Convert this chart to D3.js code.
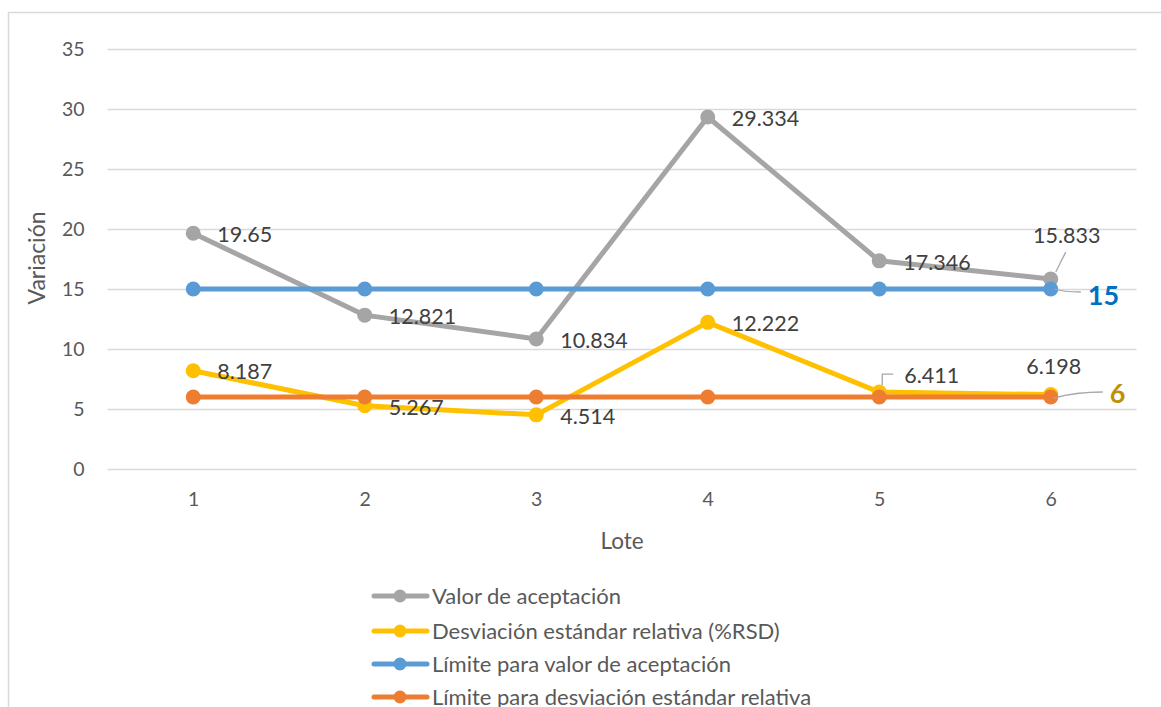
<!DOCTYPE html>
<html>
<head>
<meta charset="utf-8">
<script src="https://cdn.jsdelivr.net/npm/d3@7"></script>
<style>
  html, body { margin: 0; padding: 0; background: #fff; }
  svg { display: block; font-family: Lato, "Noto Sans", sans-serif; }
</style>
</head>
<body>
<svg id="chart" width="1161" height="707"></svg>
<script>
// Lotes and measured series
const lotes = ["1", "2", "3", "4", "5", "6"];
const valorAceptacion = [19.65, 12.821, 10.834, 29.334, 17.346, 15.833];
const desviacionRSD = [8.187, 5.267, 4.514, 12.222, 6.411, 6.198];
const limiteValor = [15, 15, 15, 15, 15, 15];
const limiteRSD = [6, 6, 6, 6, 6, 6];
const yTicks = [0, 5, 10, 15, 20, 25, 30, 35];

const seriesNames = [
  "Valor de aceptación",
  "Desviación estándar relativa (%RSD)",
  "Límite para valor de aceptación",
  "Límite para desviación estándar relativa"
];
const seriesColors = ["#A5A5A5", "#FFC000", "#5B9BD5", "#ED7D31"];

const svg = d3.select("#chart");

// chart frame
svg.append("rect")
  .attr("x", 8.5).attr("y", 12.5)
  .attr("width", 1170).attr("height", 720)
  .attr("fill", "none").attr("stroke", "#d9d9d9").attr("stroke-width", 1.5);

const plot = { left: 107.5, right: 1136.5, top: 49, bottom: 469 };

const x = d3.scalePoint()
  .domain(lotes)
  .range([plot.left, plot.right])
  .padding(0.5);

const y = d3.scaleLinear()
  .domain([0, 35])
  .range([plot.bottom, plot.top]);

// horizontal gridlines
svg.append("g")
  .selectAll("line")
  .data(yTicks)
  .join("line")
  .attr("x1", plot.left).attr("x2", plot.right)
  .attr("y1", d => Math.round(y(d)) + 0.5).attr("y2", d => Math.round(y(d)) + 0.5)
  .attr("stroke", "#d9d9d9").attr("stroke-width", 1.5);

// y axis labels
const yAxis = d3.axisLeft(y).tickValues(yTicks).tickSize(0).tickPadding(0);
const gy = svg.append("g")
  .attr("transform", `translate(${plot.left - 23},0)`)
  .call(yAxis);
gy.select(".domain").remove();
gy.selectAll("text")
  .attr("fill", "#595959")
  .attr("font-size", 19.5)
  .attr("font-family", "Lato, sans-serif");

// x axis labels
const xAxis = d3.axisBottom(x).tickSize(0).tickPadding(0);
const gx = svg.append("g")
  .attr("transform", `translate(0,${plot.bottom + 23})`)
  .call(xAxis);
gx.select(".domain").remove();
gx.selectAll("text")
  .attr("fill", "#595959")
  .attr("font-size", 19.5)
  .attr("font-family", "Lato, sans-serif");

// axis titles
svg.append("text")
  .attr("x", (plot.left + plot.right) / 2)
  .attr("y", 549)
  .attr("text-anchor", "middle")
  .attr("fill", "#595959")
  .attr("font-size", 22.5)
  .text("Lote");

svg.append("text")
  .attr("transform", "translate(45,258) rotate(-90)")
  .attr("text-anchor", "middle")
  .attr("fill", "#595959")
  .attr("font-size", 23)
  .text("Variación");

// series lines and markers
const allSeries = [valorAceptacion, desviacionRSD, limiteValor, limiteRSD];
const line = d3.line()
  .x((d, i) => x(lotes[i]))
  .y(d => y(d));

allSeries.forEach((vals, s) => {
  const g = svg.append("g");
  g.append("path")
    .datum(vals)
    .attr("d", line)
    .attr("fill", "none")
    .attr("stroke", seriesColors[s])
    .attr("stroke-width", 5)
    .attr("stroke-linejoin", "round")
    .attr("stroke-linecap", "round");
  g.selectAll("circle")
    .data(vals)
    .join("circle")
    .attr("cx", (d, i) => x(lotes[i]))
    .attr("cy", d => y(d))
    .attr("r", 7.5)
    .attr("fill", seriesColors[s]);
});

// data labels
const labelColor = "#404040";
const labelSize = 21.5;
const labels = svg.append("g")
  .attr("fill", labelColor)
  .attr("font-size", labelSize);

function rightLabel(vals, skip) {
  vals.forEach((v, i) => {
    if (skip.includes(i)) return;
    labels.append("text")
      .attr("x", x(lotes[i]) + 24)
      .attr("y", y(v) + 1)
      .attr("dy", "0.36em")
      .text(String(v));
  });
}
rightLabel(valorAceptacion, [5]);
rightLabel(desviacionRSD, [4, 5]);

const leader = svg.append("g")
  .attr("fill", "none")
  .attr("stroke", "#A6A6A6")
  .attr("stroke-width", 1.3);

// lote 6, valor de aceptación: label above with leader
{
  const v = valorAceptacion[5], px = x(lotes[5]), py = y(v);
  labels.append("text")
    .attr("x", px + 16).attr("y", py - 44)
    .attr("dy", "0.36em").attr("text-anchor", "middle")
    .text(String(v));
  leader.append("path").attr("d", `M${px + 15},${py - 27} L${px + 5},${py - 7}`);
}
// lote 5, %RSD: label above right with elbow leader
{
  const v = desviacionRSD[4], px = x(lotes[4]), py = y(v);
  labels.append("text")
    .attr("x", px + 25).attr("y", py - 17)
    .attr("dy", "0.36em")
    .text(String(v));
  leader.append("path").attr("d", `M${px + 14},${py - 18} L${px + 3},${py - 18} L${px + 3},${py - 7}`);
}
// lote 6, %RSD: label above
{
  const v = desviacionRSD[5], px = x(lotes[5]), py = y(v);
  labels.append("text")
    .attr("x", px + 3).attr("y", py - 28)
    .attr("dy", "0.36em").attr("text-anchor", "middle")
    .text(String(v));
}

// limit labels at lote 6
{
  const v = limiteValor[5], px = x(lotes[5]), py = y(v);
  leader.append("path").attr("d", `M${px + 4},${py} Q${px + 12},${py + 3} ${px + 30},${py + 3}`);
  svg.append("text")
    .attr("x", px + 37).attr("y", py + 6)
    .attr("dy", "0.36em")
    .attr("font-size", 27).attr("font-weight", "bold")
    .attr("fill", "#0070C0")
    .text(String(v));
}
{
  const v = limiteRSD[5], px = x(lotes[5]), py = y(v);
  leader.append("path").attr("d", `M${px + 3},${py + 1} Q${px + 25},${py - 5} ${px + 52},${py - 5}`);
  svg.append("text")
    .attr("x", px + 59).attr("y", py - 4)
    .attr("dy", "0.36em")
    .attr("font-size", 27).attr("font-weight", "bold")
    .attr("fill", "#BF9000")
    .text(String(v));
}

// legend
const legend = svg.append("g");
const legendRows = [596, 631, 664, 697];
seriesNames.forEach((name, i) => {
  const row = legend.append("g").attr("transform", `translate(0,${legendRows[i]})`);
  row.append("line")
    .attr("x1", 374).attr("x2", 427)
    .attr("stroke", seriesColors[i]).attr("stroke-width", 5)
    .attr("stroke-linecap", "round");
  row.append("circle")
    .attr("cx", 400).attr("r", 6.5)
    .attr("fill", seriesColors[i]);
  row.append("text")
    .attr("x", 432).attr("dy", "0.36em")
    .attr("fill", "#595959")
    .attr("font-size", 22)
    .text(name);
});
</script>
</body>
</html>
